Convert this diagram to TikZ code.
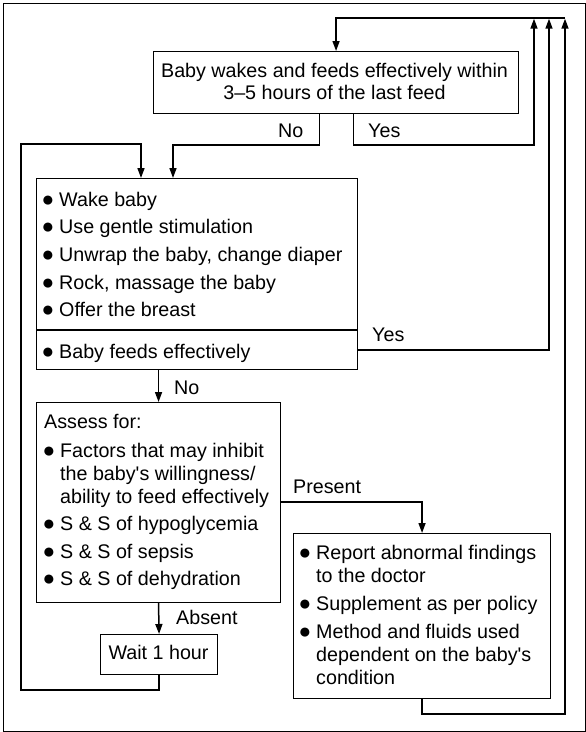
\documentclass[tikz,border=0pt]{standalone}
\usepackage{fontspec}
\newfontfamily\plainfont{Liberation Sans}
\usetikzlibrary{arrows.meta}
\newcommand\fs{\plainfont\fontsize{19.7}{22}\selectfont}
\newcommand\bul{\makebox[16pt][l]{\hspace{-1.5pt}\fontsize{21}{21}\selectfont ●}}
\begin{document}
\begin{tikzpicture}[x=1pt,y=-1pt,
  box/.style={draw, line width=1.1pt, inner sep=0pt, anchor=north west},
  txt/.style={anchor=base west, inner sep=0pt, font=\fs},
  ctxt/.style={anchor=base, inner sep=0pt, font=\fs},
  link/.style={line width=1.5pt},
  arr/.style={link, -{Triangle[length=10pt,width=7pt]}},
]
\useasboundingbox (0,0) rectangle (586,732);
\node[draw, line width=1.3pt, inner sep=0pt, anchor=north west, minimum width=581.5pt, minimum height=728pt] (frame) at (3,2.5) {};

% boxes
\node[box, minimum width=365pt, minimum height=62pt] (top) at (153,51) {};
\node[box, minimum width=321pt, minimum height=191pt] (b2) at (36,178) {};
\node[box, minimum width=244pt, minimum height=200pt] (b3) at (36,402) {};
\node[box, minimum width=257pt, minimum height=165pt] (b4) at (293,533) {};
\node[box, minimum width=117pt, minimum height=40pt] (wait) at (100,634) {};
\draw[line width=1.1pt] (b2.west |- 0,330) -- (b2.east |- 0,330);

% texts
\node[ctxt] (tt1) at (334.5,77) {Baby wakes and feeds effectively within};
\node[ctxt] (tt2) at (334.5,99.5) {3–5 hours of the last feed};

\node[txt] (a1) at (43,206) {\bul Wake baby};
\node[txt] (a2) at (43,233.5) {\bul Use gentle stimulation};
\node[txt] (a3) at (43,261) {\bul Unwrap the baby, change diaper};
\node[txt] (a4) at (43,289) {\bul Rock, massage the baby};
\node[txt] (a5) at (43,316.5) {\bul Offer the breast};
\node[txt] (a6) at (43,358) {\bul Baby feeds effectively};

\node[txt] (c0) at (44,428.5) {Assess for:};
\node[txt] (c1) at (44,457) {\bul Factors that may inhibit};
\node[txt] (c2) at (60,480) {the baby's willingness/};
\node[txt] (c3) at (60,503) {ability to feed effectively};
\node[txt] (c4) at (44,530.5) {\bul S \& S of hypoglycemia};
\node[txt] (c5) at (44,558.5) {\bul S \& S of sepsis};
\node[txt] (c6) at (44,585.5) {\bul S \& S of dehydration};

\node[txt] (d1) at (300,559) {\bul Report abnormal findings};
\node[txt] (d2) at (316,582) {to the doctor};
\node[txt] (d3) at (300,610.5) {\bul Supplement as per policy};
\node[txt] (d4) at (300,638.5) {\bul Method and fluids used};
\node[txt] (d5) at (316,661.5) {dependent on the baby's};
\node[txt] (d6) at (316,684.5) {condition};

\node[ctxt] (w1) at (158.5,659.5) {Wait 1 hour};

% labels
\node[txt] (lno1) at (278,137.5) {No};
\node[txt] (lyes1) at (368,137.5) {Yes};
\node[txt] (lyes2) at (372,341.5) {Yes};
\node[txt] (lno2) at (174,394.5) {No};
\node[txt] (lpres) at (293,493.5) {Present};
\node[txt] (labs) at (176,624.5) {Absent};

% junction coordinates
\coordinate (jn) at (565,18);
\coordinate (ya) at (534,18.7);
\coordinate (yb) at (549,18.7);
\coordinate (yc) at (565,18.7);

% connectors
\draw[arr] (jn) -| (top.north);
\draw[arr] ([xshift=17.5pt]top.south) -- ++(0,31) -| (ya);
\draw[arr] ([xshift=-16.5pt]top.south) -- ++(0,31) -| ([xshift=137pt]b2.north west);
\draw[arr] (b2.east |- 0,350) -| (yb);
\draw[arr] (b3.north |- b2.south) -- (b3.north);
\draw[arr] (b3.east |- 0,502) -| (b4.north);
\draw[arr] (b4.south) -- ++(0,15) -| (yc);
\draw[arr] (b3.south) -- (wait.north);
\draw[arr] (wait.south) -- ++(0,15) -| (21,144) -| ([xshift=105pt]b2.north west);
\end{tikzpicture}
\end{document}
